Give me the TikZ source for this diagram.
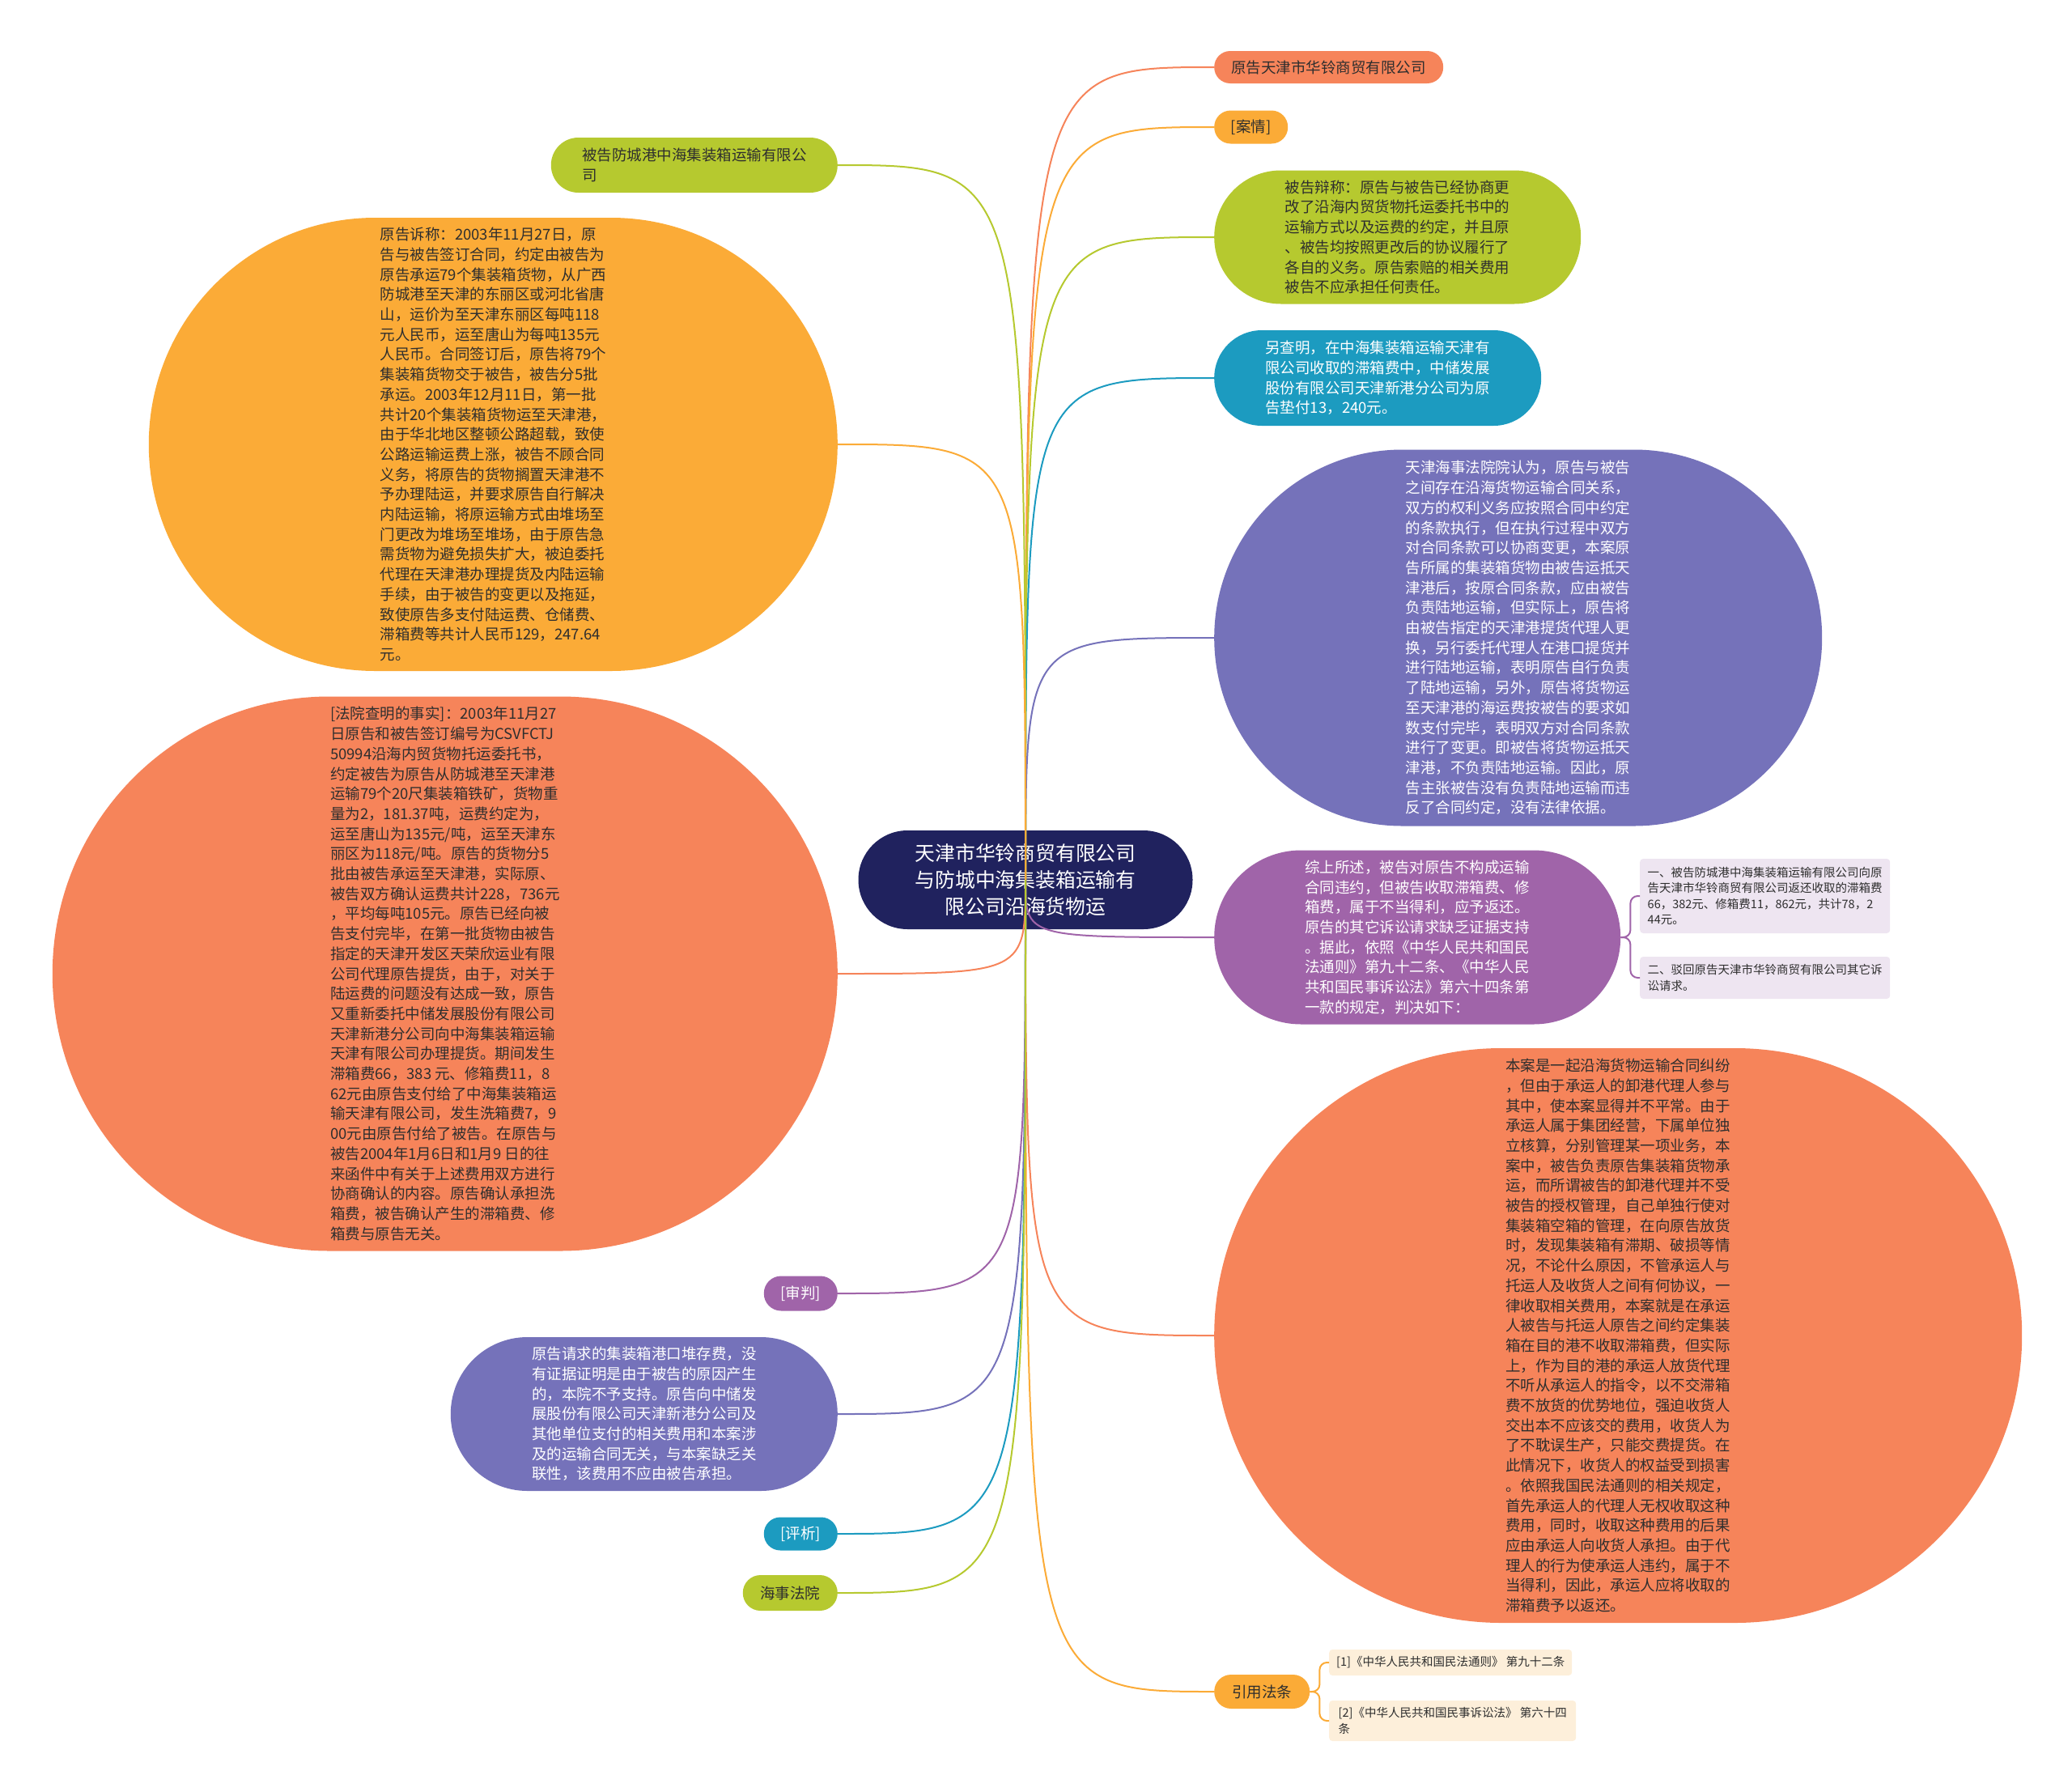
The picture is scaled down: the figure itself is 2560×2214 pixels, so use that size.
\documentclass[tikz,border=0pt]{standalone}
\usepackage{fontspec}
\setmainfont{Noto Sans CJK SC}
\usetikzlibrary{backgrounds}

\definecolor{navy}{HTML}{20225E}
\definecolor{coral}{HTML}{F6845A}
\definecolor{amber}{HTML}{FBAB37}
\definecolor{lime}{HTML}{B6C92F}
\definecolor{teal}{HTML}{1C9BC0}
\definecolor{slate}{HTML}{7572BA}
\definecolor{orchid}{HTML}{A064A9}
\definecolor{lilac}{HTML}{EEE5F1}
\definecolor{cream}{HTML}{FDEFDA}
\definecolor{ink}{HTML}{2E2E2E}

\begin{document}
\begin{tikzpicture}[x=1pt,y=-1pt,
  t/.style={rectangle,inner sep=0pt,align=left,text=ink,font=\fontsize{18.5}{24.7}\selectfont},
  p/.style 2 args={minimum width=#1,minimum height=#2,rounded corners=#2/2-0.2},
  s/.style={rectangle,inner sep=0pt,align=left,text=ink,rounded corners=4pt,font=\fontsize{14.5}{19.6}\selectfont},
  w/.style={line width=2pt}]
  \useasboundingbox (0,0) rectangle (2560,2214);
  \begin{scope}[on background layer]
    \node[t,p={413}{122},fill=navy,text=white,align=center,font=\fontsize{24.8}{33}\selectfont](root) at (1267,1087){天津市华铃商贸有限公司\\与防城中海集装箱运输有\\限公司沿海货物运};
  \end{scope}
  \coordinate (hub) at (1267,1087);

  % right side
  \node[t,p={283}{40},fill=coral,anchor=west](yg) at (1500,83){原告天津市华铃商贸有限公司};
  \node[t,p={91}{41},fill=amber,anchor=west](aq) at (1500,157){[案情]};
  \node[t,p={453}{165},fill=lime,anchor=west](bc) at (1500,293){被告辩称：原告与被告已经协商更\\改了沿海内贸货物托运委托书中的\\运输方式以及运费的约定，并且原\\、被告均按照更改后的协议履行了\\各自的义务。原告索赔的相关费用\\被告不应承担任何责任。};
  \node[t,p={404}{118},fill=teal,text=white,anchor=west](lc) at (1500,467){另查明，在中海集装箱运输天津有\\限公司收取的滞箱费中，中储发展\\股份有限公司天津新港分公司为原\\告垫付13，240元。};
  \node[t,p={751}{465},fill=slate,text=white,anchor=west](ry) at (1500,788){天津海事法院院认为，原告与被告\\之间存在沿海货物运输合同关系，\\双方的权利义务应按照合同中约定\\的条款执行，但在执行过程中双方\\对合同条款可以协商变更，本案原\\告所属的集装箱货物由被告运抵天\\津港后，按原合同条款，应由被告\\负责陆地运输，但实际上，原告将\\由被告指定的天津港提货代理人更\\换，另行委托代理人在港口提货并\\进行陆地运输，表明原告自行负责\\了陆地运输，另外，原告将货物运\\至天津港的海运费按被告的要求如\\数支付完毕，表明双方对合同条款\\进行了变更。即被告将货物运抵天\\津港，不负责陆地运输。因此，原\\告主张被告没有负责陆地运输而违\\反了合同约定，没有法律依据。};
  \node[t,p={502}{215},fill=orchid,text=white,anchor=west](zs) at (1500,1158){综上所述，被告对原告不构成运输\\合同违约，但被告收取滞箱费、修\\箱费，属于不当得利，应予返还。\\原告的其它诉讼请求缺乏证据支持\\。据此，依照《中华人民共和国民\\法通则》第九十二条、《中华人民\\共和国民事诉讼法》第六十四条第\\一款的规定，判决如下：};
  \node[t,p={998}{710},fill=coral,anchor=west](pa) at (1500,1650){本案是一起沿海货物运输合同纠纷\\，但由于承运人的卸港代理人参与\\其中，使本案显得并不平常。由于\\承运人属于集团经营，下属单位独\\立核算，分别管理某一项业务，本\\案中，被告负责原告集装箱货物承\\运，而所谓被告的卸港代理并不受\\被告的授权管理，自己单独行使对\\集装箱空箱的管理，在向原告放货\\时，发现集装箱有滞期、破损等情\\况，不论什么原因，不管承运人与\\托运人及收货人之间有何协议，一\\律收取相关费用，本案就是在承运\\人被告与托运人原告之间约定集装\\箱在目的港不收取滞箱费，但实际\\上，作为目的港的承运人放货代理\\不听从承运人的指令，以不交滞箱\\费不放货的优势地位，强迫收货人\\交出本不应该交的费用，收货人为\\了不耽误生产，只能交费提货。在\\此情况下，收货人的权益受到损害\\。依照我国民法通则的相关规定，\\首先承运人的代理人无权收取这种\\费用，同时，收取这种费用的后果\\应由承运人向收货人承担。由于代\\理人的行为使承运人违约，属于不\\当得利，因此，承运人应将收取的\\滞箱费予以返还。};
  \node[t,p={118}{42},fill=amber,anchor=west](yy) at (1500,2090){引用法条};
  \node[s,minimum width=309,minimum height=92,fill=lilac,anchor=west](pj1) at (2026,1107){一、被告防城港中海集装箱运输有限公司向原\\告天津市华铃商贸有限公司返还收取的滞箱费\\66，382元、修箱费11，862元，共计78，2\\44元。};
  \node[s,minimum width=309,minimum height=52,fill=lilac,anchor=west](pj2) at (2026,1208){二、驳回原告天津市华铃商贸有限公司其它诉\\讼请求。};
  \node[s,minimum width=300,minimum height=32,fill=cream,anchor=west](fl1) at (1642,2054){[1]《中华人民共和国民法通则》 第九十二条};
  \node[s,minimum width=305,minimum height=50,fill=cream,anchor=west](fl2) at (1642,2126){[2]《中华人民共和国民事诉讼法》 第六十四\\条};

  % left side
  \node[t,p={354}{68},fill=lime,anchor=east](bg) at (1035,204){被告防城港中海集装箱运输有限公\\司};
  \node[t,p={851}{560},fill=amber,anchor=east](ys) at (1035,549){原告诉称：2003年11月27日，原\\告与被告签订合同，约定由被告为\\原告承运79个集装箱货物，从广西\\防城港至天津的东丽区或河北省唐\\山，运价为至天津东丽区每吨118\\元人民币，运至唐山为每吨135元\\人民币。合同签订后，原告将79个\\集装箱货物交于被告，被告分5批\\承运。2003年12月11日，第一批\\共计20个集装箱货物运至天津港，\\由于华北地区整顿公路超载，致使\\公路运输运费上涨，被告不顾合同\\义务，将原告的货物搁置天津港不\\予办理陆运，并要求原告自行解决\\内陆运输，将原运输方式由堆场至\\门更改为堆场至堆场，由于原告急\\需货物为避免损失扩大，被迫委托\\代理在天津港办理提货及内陆运输\\手续，由于被告的变更以及拖延，\\致使原告多支付陆运费、仓储费、\\滞箱费等共计人民币129，247.64\\元。};
  \node[t,p={970}{685},fill=coral,anchor=east](cm) at (1035,1203){[法院查明的事实]：2003年11月27\\日原告和被告签订编号为CSVFCTJ\\50994沿海内贸货物托运委托书，\\约定被告为原告从防城港至天津港\\运输79个20尺集装箱铁矿，货物重\\量为2，181.37吨，运费约定为，\\运至唐山为135元/吨，运至天津东\\丽区为118元/吨。原告的货物分5\\批由被告承运至天津港，实际原、\\被告双方确认运费共计228，736元\\，平均每吨105元。原告已经向被\\告支付完毕，在第一批货物由被告\\指定的天津开发区天荣欣运业有限\\公司代理原告提货，由于，对关于\\陆运费的问题没有达成一致，原告\\又重新委托中储发展股份有限公司\\天津新港分公司向中海集装箱运输\\天津有限公司办理提货。期间发生\\滞箱费66，383 元、修箱费11，8\\62元由原告支付给了中海集装箱运\\输天津有限公司，发生洗箱费7，9\\00元由原告付给了被告。在原告与\\被告2004年1月6日和1月9 日的往\\来函件中有关于上述费用双方进行\\协商确认的内容。原告确认承担洗\\箱费，被告确认产生的滞箱费、修\\箱费与原告无关。};
  \node[t,p={91}{43},fill=orchid,text=white,anchor=east](sp) at (1035,1598){[审判]};
  \node[t,p={478}{190},fill=slate,text=white,anchor=east](qq) at (1035,1747){原告请求的集装箱港口堆存费，没\\有证据证明是由于被告的原因产生\\的，本院不予支持。原告向中储发\\展股份有限公司天津新港分公司及\\其他单位支付的相关费用和本案涉\\及的运输合同无关，与本案缺乏关\\联性，该费用不应由被告承担。};
  \node[t,p={91}{41},fill=teal,text=white,anchor=east](px) at (1035,1895){[评析]};
  \node[t,p={117}{44},fill=lime,anchor=east](hs) at (1035,1968){海事法院};

  % branches
  \foreach \x/\y in {yg/coral,aq/amber,bc/lime,lc/teal,ry/slate,zs/orchid,pa/coral,yy/amber}{\draw[w,draw=\y](hub)..controls(hub|-\x.west)..(\x.west);}
  \foreach \x/\y in {bg/lime,ys/amber,cm/coral,sp/orchid,qq/slate,px/teal,hs/lime}{\draw[w,draw=\y](hub)..controls(hub|-\x.east)..(\x.east);}
  \foreach \x in {pj1,pj2}{\draw[w,draw=orchid,rounded corners=9pt](zs.east)--++(12,0)|-(\x.west);}
  \foreach \x in {fl1,fl2}{\draw[w,draw=amber,rounded corners=9pt](yy.east)--++(12,0)|-(\x.west);}
\end{tikzpicture}
\end{document}
